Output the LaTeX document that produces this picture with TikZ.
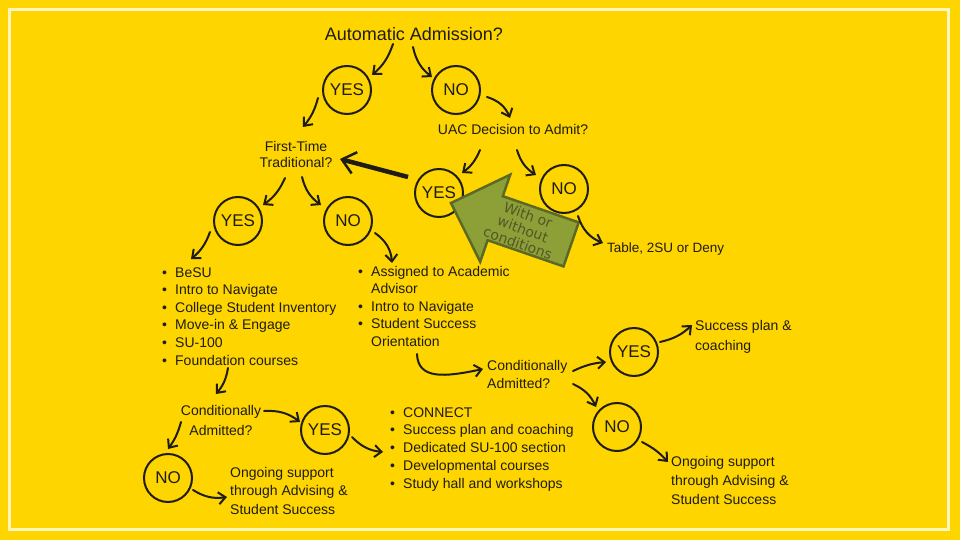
\documentclass[tikz,border=0pt]{standalone}
\usepackage{fontspec}
\setmainfont{Liberation Sans}
\newfontfamily\arrowfont{DejaVu Sans}
\usetikzlibrary{arrows.meta,calc}
\definecolor{bgyellow}{RGB}{255,213,0}
\definecolor{framecol}{RGB}{255,246,190}
\definecolor{ink}{RGB}{30,28,20}
\definecolor{olivefill}{RGB}{141,160,56}
\definecolor{olivedark}{RGB}{92,104,38}
\definecolor{olivetext}{RGB}{84,86,40}
\newcommand{\mlines}[2]{\begin{tabular}[t]{@{}#1@{}}#2\end{tabular}}
\newcommand{\itm}{\makebox[13pt][l]{\textbullet}}
\newcommand{\noitm}{\makebox[13pt][l]{}}
\tikzset{
  txt/.style={inner sep=0pt, text=ink, font=\fontsize{14}{17.6}\selectfont},
  decision/.style={circle, draw=ink, line width=2pt, minimum size=48pt, inner sep=0pt,
    text=ink, font=\fontsize{17}{20}\selectfont},
  flow/.style={draw=ink, line width=2pt, line cap=round,
    -{Straight Barb[length=7pt,width=12pt]}},
  bigflow/.style={draw=ink, line width=4.5pt,
    -{Straight Barb[length=13pt,width=22pt,line width=2.5pt]}},
}
\begin{document}
\begin{tikzpicture}[x=1pt,y=-1pt]
\fill[bgyellow] (0,0) rectangle (960,540);
\useasboundingbox (0,0) rectangle (960,540);
\draw[framecol, line width=3pt] (9.5,9.5) rectangle (948.5,529.5);

% text nodes
\node[txt, font=\fontsize{18}{20}\selectfont, anchor=base] (auto) at (414,41) {Automatic Admission?};
\node[txt, anchor=base] (uac) at (513,135) {UAC Decision to Admit?};
\node[txt, anchor=base, font=\fontsize{14}{16}\selectfont] (ftt) at (296,152) {\mlines{c}{First-Time\\Traditional?}};
\node[txt, anchor=base west, font=\fontsize{13.5}{16}\selectfont] (table) at (607,252) {Table, 2SU or Deny};
\node[txt, anchor=base west] (leftlist) at (162,277) {\mlines{l}{\itm BeSU\\ \itm Intro to Navigate\\ \itm College Student Inventory\\ \itm Move-in \& Engage\\ \itm SU-100\\ \itm Foundation courses}};
\node[txt, anchor=base west] (rightlist) at (358,276) {\mlines{l}{\itm Assigned to Academic\\ \noitm Advisor\\ \itm Intro to Navigate\\ \itm Student Success\\ \noitm Orientation}};
\node[txt, anchor=base west, font=\fontsize{14}{18}\selectfont] (cond1) at (487,370) {\mlines{l}{Conditionally\\Admitted?}};
\node[txt, anchor=base west, font=\fontsize{14}{20}\selectfont] (success) at (695,330) {\mlines{l}{Success plan \&\\coaching}};
\node[txt, anchor=base west, font=\fontsize{14}{19}\selectfont] (ongoingR) at (671,466) {\mlines{l}{Ongoing support\\through Advising \&\\Student Success}};
\node[txt, anchor=base, font=\fontsize{14}{20}\selectfont] (cond2) at (221,415) {\mlines{c}{Conditionally\\Admitted?}};
\node[txt, anchor=base west, font=\fontsize{14}{17.75}\selectfont] (botlist) at (390,417) {\mlines{l}{\itm CONNECT\\ \itm Success plan and coaching\\ \itm Dedicated SU-100 section\\ \itm Developmental courses\\ \itm Study hall and workshops}};
\node[txt, anchor=base west, font=\fontsize{14}{18.5}\selectfont] (ongoingL) at (230,477) {\mlines{l}{Ongoing support\\through Advising \&\\Student Success}};

% decision circles
\node[decision] (yes1) at (347,90) {YES};
\node[decision] (no1) at (456,90) {NO};
\node[decision] (yes2) at (439,193) {YES};
\node[decision] (no2) at (564,189) {NO};
\node[decision] (yes3) at (238,221) {YES};
\node[decision] (no3) at (348,221) {NO};
\node[decision] (yes4) at (634,352) {YES};
\node[decision] (no4) at (617,427) {NO};
\node[decision] (yes5) at (325,430) {YES};
\node[decision] (no5) at (168,478) {NO};

% green block arrow
\filldraw[fill=olivefill, draw=olivedark, line width=2.5pt, line join=miter]
  (451,203) -- (510.2,174.7) -- (502.8,196.2) -- (578.7,222.4) -- (563.5,266.4)
  -- (487.6,240.2) -- (480.2,261.7) -- cycle;
\node[rotate=-20, text=olivetext, font=\arrowfont\fontsize{14}{15}\selectfont,
  align=center, inner sep=0pt] (withtxt) at (523,229) {With or\\without\\conditions};

% connectors
\draw[flow] ($(auto.base)+(-21,3)$) to[bend left=15] ($(yes1)+(25,-15)$);
\draw[flow] ($(auto.base)+(-1,6)$) to[bend right=20] ($(no1)+(-24,-13)$);
\draw[flow] ($(yes1)+(-29,8)$) to[bend left=12] ($(ftt.base)+(7,-25)$);
\draw[flow] ($(no1)+(31,7)$) to[bend left=25] ($(uac.base)+(-3,-17)$);
\draw[flow] ($(uac.base)+(-33,15)$) to[bend left=15] ($(yes2)+(23,-20)$);
\draw[flow] ($(uac.base)+(4,15)$) to[bend right=20] ($(no2)+(-28,-14)$);
\draw[flow] ($(ftt.base)+(-11,26)$) to[bend left=15] ($(yes3)+(25,-16)$);
\draw[flow] ($(ftt.base)+(6,25)$) to[bend right=20] ($(no3)+(-27,-16)$);
\draw[bigflow] ($(yes2)+(-31,-16)$) -- ($(ftt.base)+(44,7)$);
\draw[flow] ($(no2)+(14,27)$) to[bend right=25] ($(table.base west)+(-4,-9)$);
\draw[flow] ($(yes3)+(-28,11)$) to[bend left=15] ($(leftlist.base west)+(29,-18)$);
\draw[flow] ($(no3)+(27,12)$) to[bend left=25] ($(rightlist.base west)+(34,-13)$);
\draw[flow] ($(rightlist.base west)+(59,78)$) .. controls +(1,26) and +(-38,8) .. ($(cond1.base west)+(-4,-1)$);
\draw[flow] ($(cond1.base west)+(86,1)$) to[bend left=10] ($(yes4)+(-28,10)$);
\draw[flow] ($(cond1.base west)+(86,14)$) to[bend left=20] ($(no4)+(-21,-20)$);
\draw[flow] ($(yes4)+(26,-10)$) to[bend right=15] ($(success.base west)+(-3,-5)$);
\draw[flow] ($(no4)+(25,15)$) to[bend left=10] ($(ongoingR.base west)+(-3,-4)$);
\draw[flow] ($(leftlist.base west)+(66,91)$) to[bend left=15] ($(cond2.base)+(-5,-21)$);
\draw[flow] ($(cond2.base)+(43,-4)$) to[bend left=20] ($(yes5)+(-25,-8)$);
\draw[flow] ($(cond2.base)+(-40,7)$) to[bend left=10] ($(no5)+(0,-29)$);
\draw[flow] ($(yes5)+(27,7)$) to[bend right=20] ($(botlist.base west)+(-7,35)$);
\draw[flow] ($(no5)+(25,12)$) to[bend right=20] ($(ongoingL.base west)+(-3,20)$);
\end{tikzpicture}
\end{document}
